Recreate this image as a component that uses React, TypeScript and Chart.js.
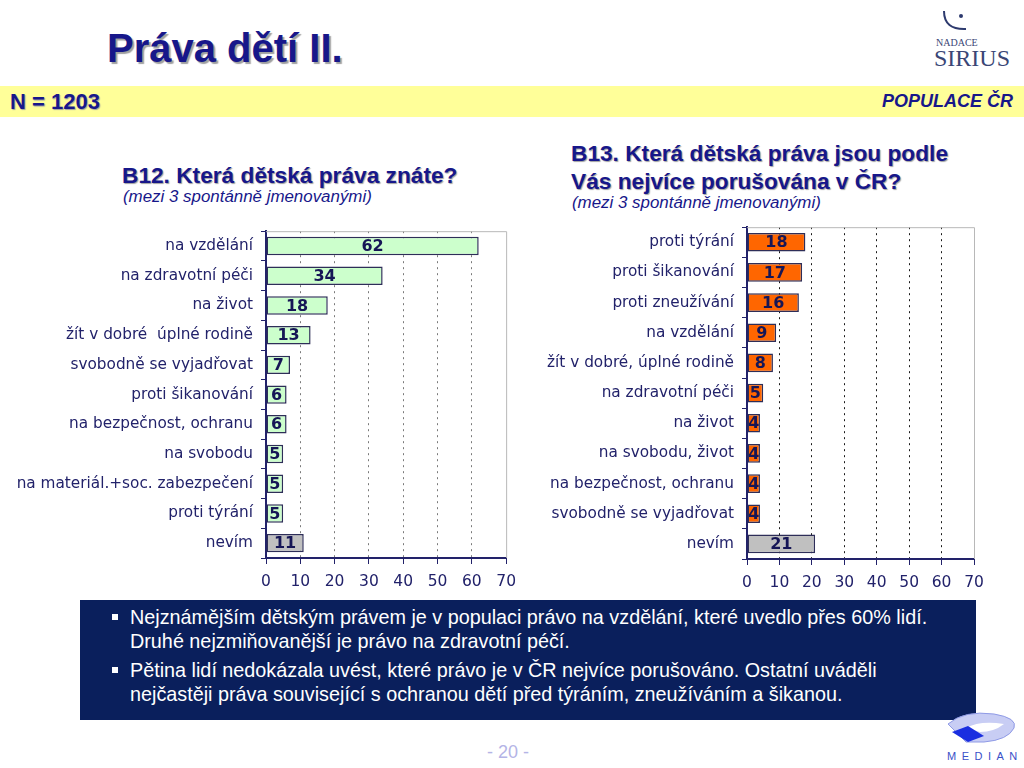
import React, { useEffect, useRef } from 'react';
import { Chart, registerables } from 'chart.js';

Chart.register(...registerables);

// ---------- DATA ----------
const leftCategories = [
  'na vzdělání',
  'na zdravotní péči',
  'na život',
  'žít v dobré  úplné rodině',
  'svobodně se vyjadřovat',
  'proti šikanování',
  'na bezpečnost, ochranu',
  'na svobodu',
  'na materiál.+soc. zabezpečení',
  'proti týrání',
  'nevím',
];
const leftValues = [62, 34, 18, 13, 7, 6, 6, 5, 5, 5, 11];

const rightCategories = [
  'proti týrání',
  'proti šikanování',
  'proti zneužívání',
  'na vzdělání',
  'žít v dobré, úplné rodině',
  'na zdravotní péči',
  'na život',
  'na svobodu, život',
  'na bezpečnost, ochranu',
  'svobodně se vyjadřovat',
  'nevím',
];
const rightValues = [18, 17, 16, 9, 8, 5, 4, 4, 4, 4, 21];

const axisMin = 0;
const axisMax = 70;
const axisStep = 10;

// ---------- STYLE ----------
const NAVY = '#22226a';
const TITLE_BLUE = '#17178a';
const SANS = '"Liberation Sans", Arial, sans-serif';

const valueLabelPlugin = {
  id: 'valueLabels',
  afterDatasetsDraw(chart: any) {
    const ctx = chart.ctx;
    const meta = chart.getDatasetMeta(0);
    const data = chart.data.datasets[0].data;
    ctx.save();
    ctx.font = 'bold 16px "DejaVu Sans"';
    ctx.fillStyle = '#161656';
    ctx.textAlign = 'center';
    ctx.textBaseline = 'middle';
    meta.data.forEach((bar: any, i: number) => {
      ctx.fillText(String(data[i]), (bar.x + bar.base) / 2, bar.y + 1);
    });
    ctx.restore();
  },
};

const framePlugin = {
  id: 'frame',
  beforeDatasetsDraw(chart: any) {
    const { ctx, chartArea } = chart;
    ctx.save();
    ctx.strokeStyle = '#b8b8b8';
    ctx.lineWidth = 1;
    ctx.beginPath();
    ctx.moveTo(chartArea.left, chartArea.top + 0.5);
    ctx.lineTo(chartArea.right + 0.5, chartArea.top + 0.5);
    ctx.lineTo(chartArea.right + 0.5, chartArea.bottom);
    ctx.stroke();
    ctx.restore();
  },
};

type BarProps = {
  left: number;
  top: number;
  width: number;
  height: number;
  axisWidth: number;
  padRight: number;
  padTop: number;
  labels: string[];
  values: number[];
  fill: string;
  gridColor: string;
};

function BarChart(p: BarProps) {
  const ref = useRef<HTMLCanvasElement>(null);
  useEffect(() => {
    const colors = p.values.map((_, i) => (i === p.values.length - 1 ? '#c0c0c0' : p.fill));
    const chart = new Chart(ref.current as HTMLCanvasElement, {
      type: 'bar',
      data: {
        labels: p.labels,
        datasets: [
          {
            data: p.values,
            backgroundColor: colors,
            borderColor: '#2e2e58',
            borderWidth: 1.5,
            borderSkipped: false,
            barPercentage: 0.62,
            categoryPercentage: 1,
          },
        ],
      },
      options: {
        indexAxis: 'y',
        animation: false,
        responsive: false,
        maintainAspectRatio: false,
        layout: { padding: { top: p.padTop, right: p.padRight, left: 0, bottom: 0 } },
        plugins: { legend: { display: false }, tooltip: { enabled: false } },
        scales: {
          x: {
            min: axisMin,
            max: axisMax,
            ticks: {
              stepSize: axisStep,
              color: NAVY,
              font: { family: 'DejaVu Sans', size: 15.5 },
              padding: 9,
              maxRotation: 0,
            },
            grid: {
              color: (c: any) =>
                c.tick && (c.tick.value === axisMax || c.tick.value === axisMin) ? 'rgba(0,0,0,0)' : p.gridColor,
              lineWidth: 1,
              tickColor: NAVY,
              tickLength: 6,
              drawTicks: true,
            },
            border: { color: NAVY, width: 2, dash: [2, 4] },
            afterFit: (s: any) => {
              s.height = 37;
            },
          },
          y: {
            ticks: {
              color: NAVY,
              font: { family: 'DejaVu Sans', size: 15.3 },
              padding: 8,
              autoSkip: false,
            },
            grid: {
              drawOnChartArea: false,
              drawTicks: true,
              tickLength: 5,
              tickColor: NAVY,
              offset: true,
              color: NAVY,
            },
            border: { color: NAVY, width: 2 },
            afterFit: (s: any) => {
              s.width = p.axisWidth;
            },
          },
        },
      } as any,
      plugins: [framePlugin, valueLabelPlugin],
    });
    return () => chart.destroy();
  }, []);
  return (
    <canvas
      ref={ref}
      width={p.width}
      height={p.height}
      style={{ position: 'absolute', left: p.left, top: p.top, width: p.width, height: p.height }}
    />
  );
}

const abs = (o: React.CSSProperties): React.CSSProperties => ({ position: 'absolute', whiteSpace: 'nowrap', ...o });

export default function App() {
  const titleShadow = '2px 2px 1px #a0a0a0';
  return (
    <div
      style={{
        position: 'fixed',
        left: 0,
        top: 0,
        width: 1024,
        height: 768,
        overflow: 'hidden',
        background: '#ffffff',
        fontFamily: SANS,
      }}
    >
      {/* Title */}
      <div style={abs({ left: 107, top: 28, fontSize: 40, lineHeight: '40px', fontWeight: 'bold', color: TITLE_BLUE, textShadow: titleShadow })}>
        Práva dětí II.
      </div>

      {/* Sirius logo */}
      <svg style={{ position: 'absolute', left: 930, top: 4 }} width={90} height={34}>
        <path d="M 14 7 Q 14 26 36 25" stroke="#2d3a6e" strokeWidth={2} fill="none" />
        <circle cx={31} cy={12} r={2} fill="#2d3a6e" />
      </svg>
      <div style={abs({ left: 936, top: 38, fontSize: 10, lineHeight: '10px', fontFamily: '"Liberation Serif", serif', color: '#3a4676' })}>
        NADACE
      </div>
      <div style={abs({ left: 934, top: 47, fontSize: 24, lineHeight: '22px', fontFamily: '"Liberation Serif", serif', color: '#3a4676' })}>
        SIRIUS
      </div>

      {/* Yellow band */}
      <div style={abs({ left: 0, top: 86, width: 1024, height: 31, background: '#ffff99' })} />
      <div style={abs({ left: 10, top: 86, fontSize: 22, lineHeight: '31px', fontWeight: 'bold', color: TITLE_BLUE, textShadow: '1px 1px 1px #a0a0a0' })}>
        N = 1203
      </div>
      <div style={abs({ right: 11, top: 86, fontSize: 18, lineHeight: '31px', fontWeight: 'bold', fontStyle: 'italic', color: TITLE_BLUE })}>
        POPULACE ČR
      </div>

      {/* Chart headings */}
      <div style={abs({ left: 122, top: 164, fontSize: 22.7, lineHeight: '22px', fontWeight: 'bold', color: TITLE_BLUE, textShadow: '1px 1px 1px #a0a0a0' })}>
        B12. Která dětská práva znáte?
      </div>
      <div style={abs({ left: 123, top: 189, fontSize: 16.9, lineHeight: '16.5px', fontStyle: 'italic', color: TITLE_BLUE })}>
        (mezi 3 spontánně jmenovanými)
      </div>

      <div style={abs({ left: 571, top: 139, fontSize: 22.7, lineHeight: '28px', fontWeight: 'bold', color: TITLE_BLUE, textShadow: '1px 1px 1px #a0a0a0' })}>
        B13. Která dětská práva jsou podle
        <br />
        Vás nejvíce porušována v ČR?
      </div>
      <div style={abs({ left: 572, top: 195, fontSize: 16.9, lineHeight: '16.5px', fontStyle: 'italic', color: TITLE_BLUE })}>
        (mezi 3 spontánně jmenovanými)
      </div>

      {/* Charts */}
      <BarChart
        left={0}
        top={214}
        width={525}
        height={381}
        axisWidth={266}
        padRight={17}
        padTop={7}
        labels={leftCategories}
        values={leftValues}
        fill="#ccffcc"
        gridColor="#7a7a7a"
      />
      <BarChart
        left={540}
        top={210}
        width={460}
        height={386}
        axisWidth={207}
        padRight={26}
        padTop={7}
        labels={rightCategories}
        values={rightValues}
        fill="#ff6600"
        gridColor="#1a1a1a"
      />

      {/* Summary box */}
      <div style={abs({ left: 80, top: 600, width: 896, height: 120, background: '#0a1f5c' })}>
        <div style={abs({ left: 32, top: 14, width: 6, height: 6, background: '#ffffff' })} />
        <div style={abs({ left: 50, top: 5, fontSize: 19.8, lineHeight: '24px', color: '#ffffff' })}>
          Nejznámějším dětským právem je v populaci právo na vzdělání, které uvedlo přes 60% lidí.
          <br />
          Druhé nejzmiňovanější je právo na zdravotní péčí.
        </div>
        <div style={abs({ left: 32, top: 67, width: 6, height: 6, background: '#ffffff' })} />
        <div style={abs({ left: 50, top: 58, fontSize: 19.8, lineHeight: '24px', color: '#ffffff' })}>
          Pětina lidí nedokázala uvést, které právo je v ČR nejvíce porušováno. Ostatní uváděli
          <br />
          nejčastěji práva související s ochranou dětí před týráním, zneužíváním a šikanou.
        </div>
      </div>

      {/* Page number */}
      <div style={abs({ left: 458, width: 100, textAlign: 'center', top: 741, fontSize: 18, lineHeight: '22px', color: '#b4b4e6' })}>
        - 20 -
      </div>

      {/* Median logo */}
      <svg style={{ position: 'absolute', left: 944, top: 710 }} width={76} height={36}>
        <path d="M 4 14 Q 20 0 50 4 Q 74 8 70 18 Q 64 30 40 32 L 22 32 Z" fill="#c8cdf4" stroke="#8f9ae6" strokeWidth={1} />
        <path d="M 22 18 Q 36 10 60 14 Q 50 22 36 22 Z" fill="#ffffff" />
        <path d="M 8 22 L 24 16 L 40 26 L 24 32 Z" fill="#1a2ee0" />
      </svg>
      <div style={abs({ left: 947, top: 750, fontSize: 11, lineHeight: '12px', letterSpacing: 5.5, color: '#3a50c8' })}>
        MEDIAN
      </div>
    </div>
  );
}
